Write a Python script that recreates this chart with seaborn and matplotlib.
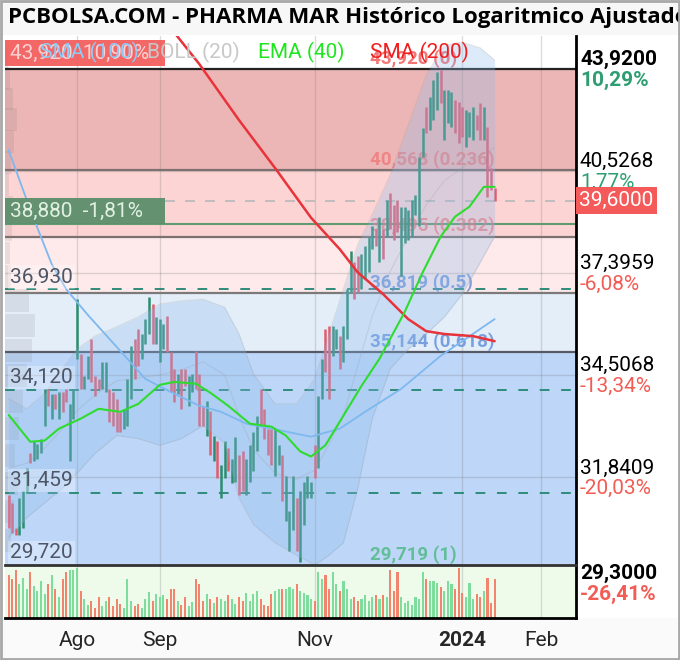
import numpy as np
import pandas as pd
import matplotlib
matplotlib.use('Agg')
import matplotlib.pyplot as plt
import matplotlib.transforms as mtransforms
from matplotlib.patches import Rectangle
import seaborn as sns

sns.set_style('white')
plt.rcParams['font.family'] = ['Roboto', 'DejaVu Sans']

# calendario de sesiones (BME cierra 25/26 dic y 1 ene)
FESTIVOS = ['2023-12-25', '2023-12-26', '2024-01-01']
calendario = pd.bdate_range('2023-07-05', '2024-02-29', freq='C', holidays=FESTIVOS)

# apertura / cierre de cada sesión (5 jul 2023 - 15 ene 2024)
aperturas = [
    31.40, 31.21, 30.61, 30.44, 30.61, 31.45, 32.45, 32.25, 32.32, 32.45,
    33.17, 34.14, 33.35, 34.01, 33.35, 34.06, 34.14, 32.25, 33.35, 34.96,
    35.10, 34.14, 34.41, 35.51, 34.49, 34.41, 34.14, 34.06, 34.14, 34.06,
    33.88, 33.53, 33.09, 33.17, 33.88, 35.51, 35.79, 34.96, 35.37, 35.65,
    36.50, 35.37, 34.88, 35.23, 36.16, 35.15, 34.69, 34.01, 34.69, 34.69,
    33.69, 34.06, 35.18, 34.55, 33.69, 32.91, 33.56, 32.25, 32.76, 31.33,
    31.82, 32.58, 31.70, 31.74, 32.40, 32.50, 31.40, 31.74, 32.00, 32.50,
    34.14, 33.61, 33.09, 33.09, 31.89, 32.15, 32.40, 30.78, 30.06, 30.54,
    31.33, 29.79, 30.68, 31.33, 31.33, 32.66, 32.07, 33.88, 35.79, 35.87,
    35.04, 35.23, 35.59, 34.88, 35.51, 36.85, 37.72, 37.90, 36.93, 37.22,
    37.42, 38.11, 38.71, 37.72, 38.71, 38.49, 39.85, 39.47, 39.63, 37.31,
    38.31, 38.40, 38.49, 39.16, 38.80, 40.99, 42.63, 41.86, 42.19, 42.53,
    43.89, 41.54, 42.09, 41.96, 42.86, 42.79, 42.63, 41.31, 41.64, 41.54,
    42.36, 42.76, 41.54, 41.96, 40.64, 40.00,
]
cierres = [
    30.61, 30.49, 30.44, 31.33, 31.50, 32.07, 32.20, 32.76, 32.70, 32.83,
    34.14, 33.69, 34.01, 33.61, 34.06, 33.53, 33.80, 33.74, 34.14, 36.64,
    34.14, 34.49, 35.04, 34.33, 33.96, 34.14, 34.88, 34.88, 33.27, 33.17,
    33.01, 33.01, 33.61, 34.41, 35.32, 34.41, 34.77, 35.65, 36.07, 36.70,
    35.37, 36.13, 36.07, 35.93, 35.15, 34.06, 33.80, 34.55, 33.61, 34.22,
    34.49, 34.55, 34.14, 33.17, 33.17, 33.82, 32.40, 32.91, 31.82, 32.15,
    32.76, 32.00, 32.32, 32.88, 31.40, 31.50, 32.32, 32.66, 33.01, 33.43,
    33.17, 32.83, 32.40, 32.15, 33.09, 32.66, 31.26, 31.89, 31.02, 31.89,
    30.06, 31.50, 31.74, 31.87, 31.74, 31.82, 33.96, 34.96, 34.60, 33.88,
    35.87, 35.79, 34.69, 35.87, 36.93, 38.05, 36.64, 36.85, 37.96, 38.20,
    38.49, 38.80, 38.20, 39.10, 37.81, 39.63, 38.71, 38.40, 38.62, 39.41,
    39.41, 39.32, 39.63, 39.78, 40.99, 41.93, 41.76, 42.96, 43.54, 43.82,
    42.76, 43.20, 43.20, 43.13, 41.76, 41.44, 41.64, 42.53, 42.46, 42.63,
    41.86, 41.54, 42.63, 39.72, 39.94, 39.60,
]
volumen = [
    45, 40, 50, 35, 42, 30, 48, 33, 28, 38, 25, 35, 45, 30, 22, 40, 48, 50, 50, 52,
    28, 20, 14, 18, 10, 22, 12, 18, 22, 12, 20, 15, 10, 40, 18, 12, 15, 10, 20, 27,
    18, 25, 22, 24, 20, 30, 30, 18, 14, 22, 12, 17, 40, 35, 18, 25, 20, 16, 22, 20,
    18, 24, 20, 15, 22, 18, 26, 18, 25, 28, 20, 14, 12, 25, 28, 30, 30, 30, 32, 30,
    35, 28, 26, 24, 20, 18, 48, 40, 45, 30, 48, 35, 28, 38, 30, 20, 22, 18, 20, 24,
    18, 22, 24, 20, 24, 22, 50, 28, 48, 22, 16, 18, 14, 22, 20, 48, 40, 38, 38, 36,
    32, 28, 38, 35, 30, 52, 26, 22, 36, 20, 25, 22, 28, 42, 16, 40,
]

# medias (sesión, valor)
ema40_ses = [0, 6, 10, 14, 20, 25, 31, 36, 42, 46, 52, 56, 61, 67, 73, 77, 81, 84,
             88, 93, 98, 103, 110, 115, 120, 124, 128, 132, 135]
ema40_val = [33.45, 32.75, 32.78, 33.09, 33.35, 33.61, 33.53, 33.74, 34.25, 34.33,
             34.28, 34.04, 33.69, 33.22, 33.14, 32.91, 32.50, 32.37, 32.66, 33.43,
             34.22, 34.96, 36.27, 37.42, 38.49, 39.10, 39.41, 40.03, 40.03]
sma100_ses = [0, 6, 12, 16, 22, 32, 38, 45, 53, 59, 66, 73, 84, 92, 99, 109, 120, 135]
sma100_val = [41.21, 39.32, 37.66, 36.93, 36.19, 35.07, 34.41, 34.06, 33.69, 33.53,
              33.22, 33.09, 32.88, 33.09, 33.53, 34.14, 35.04, 36.07]
sma200_ses = [45, 53, 64, 74, 84, 92, 97, 104, 111, 116, 121, 129, 135]
sma200_val = [45.37, 44.09, 42.19, 40.63, 39.07, 38.11, 37.42, 36.79, 36.07, 35.73,
              35.65, 35.59, 35.45]
boll_ses = [0, 5, 10, 15, 19, 24, 30, 36, 42, 48, 54, 60, 64, 68, 74, 80, 85, 89,
            93, 97, 101, 106, 111, 116, 121, 126, 131, 135]
boll_sup = [33.88, 33.61, 34.01, 34.69, 35.23, 35.59, 35.85, 36.13, 36.50, 36.59,
            36.64, 36.41, 35.65, 34.55, 33.74, 33.74, 34.41, 35.65, 36.93, 38.26,
            39.16, 40.41, 42.03, 43.71, 44.76, 44.86, 44.66, 44.23]
boll_med = [32.07, 32.20, 32.58, 33.09, 33.56, 33.98, 34.36, 34.44, 34.52, 34.66,
            34.88, 34.52, 33.43, 32.55, 31.95, 31.80, 32.02, 32.68, 33.43, 34.77,
            36.16, 37.45, 38.50, 39.47, 40.22, 40.63, 41.05, 41.28]
boll_inf = [30.37, 30.85, 31.21, 31.58, 31.95, 32.45, 32.91, 32.83, 32.66, 32.83,
            33.17, 32.71, 31.33, 30.68, 30.25, 29.95, 29.72, 29.95, 30.25, 31.58,
            33.35, 34.69, 35.23, 35.65, 36.13, 36.79, 37.72, 38.50]

# retrocesos de Fibonacci
fib_precios = [43.920, 40.568, 38.495, 36.819, 35.144, 29.719]
fib_ratios = ['0', '0.236', '0.382', '0.5', '0.618', '1']
fib_zonas = ['#edb6b6', '#fdd4d4', '#feeaea', '#e4eef9', '#bed7f8']
fib_colores = ['#f03c3c', '#f07070', '#f07070', '#4a7fd6', '#4a7fd6', '#3cb371']

# niveles marcados a la izquierda
soportes = [36.930, 34.120, 31.459]
minimo = 29.720
caja_sup = (43.920, '10,90%')
caja_inf = (38.880, '-1,81%')

# eje de precios de la derecha
eje_precios = [43.92, 40.5268, 37.3959, 34.5068, 31.8409, 29.30]
eje_pct = ['10,29%', '1,77%', '-6,08%', '-13,34%', '-20,03%', '-26,41%']
precio_actual = 39.60

# perfil de volumen por precio
perfil_precio = [44.3, 43.6, 42.9, 42.2, 41.5, 40.8, 40.1, 39.4, 38.7, 38.0, 37.3,
                 36.6, 35.9, 35.2, 34.5, 33.8, 33.1, 32.4, 31.7, 31.0, 30.3]
perfil_vol = [3, 5, 8, 12, 9, 6, 4, 8, 7, 5, 6, 24, 30, 27, 22, 18, 14, 10, 13, 9, 6]

meses = ['Ago', 'Sep', 'Nov', '2024', 'Feb']
meses_fecha = ['2023-08-01', '2023-09-01', '2023-11-01', '2024-01-02', '2024-02-01']

VERDE = '#2b8c6e'
ROJO = '#e25c6c'

fig = plt.figure(figsize=(6.8, 6.6), dpi=100)
fig.patch.set_facecolor('white')
fig.patches.append(Rectangle((0, 1 - 35 / 660), 1, 35 / 660, transform=fig.transFigure,
                             fc='#f7f7f7', ec='none', zorder=-1))
fig.patches.append(Rectangle((0, 0), 1, 42 / 660, transform=fig.transFigure,
                             fc='#fafafa', ec='none', zorder=-1))
fig.patches.append(Rectangle((0.002, 0.002), 0.996, 0.996, transform=fig.transFigure,
                             fc='none', ec='#a8a8a8', lw=2, zorder=10))

L, W = 5 / 680, 571 / 680
ax = fig.add_axes([L, 1 - 565 / 660, W, 529 / 660])
axv = fig.add_axes([L, 1 - 618 / 660, W, 53 / 660])

n = len(cierres)
ses = np.arange(n)
ab = np.array(aperturas)
ci = np.array(cierres)
sube = ci >= ab
mes_idx = [int(np.searchsorted(calendario, pd.Timestamp(m))) for m in meses_fecha]

ax.set_yscale('log')
ax.set_facecolor('white')

# zonas de Fibonacci
for k, c in enumerate(fib_zonas):
    ax.axhspan(fib_precios[k + 1], fib_precios[k], color=c, lw=0, zorder=0)

# rejilla
for m in mes_idx:
    ax.axvline(m, color='#777777', alpha=0.25, lw=1, zorder=0.6)
    axv.axvline(m, color='#777777', alpha=0.25, lw=1, zorder=0.6)
for p in eje_precios:
    ax.axhline(p, color='#777777', alpha=0.25, lw=1, zorder=0.6)

# perfil de volumen
pp = np.array(perfil_precio)
ax.barh(pp, np.array(perfil_vol) / 3.6, left=-1, height=pp * 0.018,
        color='#6f6f6f', alpha=0.13, lw=0, zorder=1)

# líneas de Fibonacci
fib_lineas = ['#222222', '#7d7070', '#7d7070', '#7a7a7a', '#555a66', '#333333']
for p, c in zip(fib_precios[:-1], fib_lineas[:-1]):
    ax.axhline(p, color=c, lw=1.6, zorder=2)

# soportes y precio actual
for p in soportes:
    ax.axhline(p, color='#2e8b7a', lw=1.4, dashes=(5, 6), zorder=2)
ax.axhline(caja_inf[0], color='#5f9a70', lw=1.5, zorder=2)
ax.axhline(precio_actual, xmin=0.28, color='#b8b8b8', lw=1.2, dashes=(6, 6), zorder=2)

# etiquetas de Fibonacci
for p, r, c in zip(fib_precios, fib_ratios, fib_colores):
    ax.annotate(f"{p:.3f}".replace('.', ',') + f" ({r})", xy=(100.3, p), xytext=(0, 1),
                textcoords='offset points', va='bottom', ha='left', fontsize=13.5,
                fontweight='bold', color=c, alpha=0.7, zorder=2.5, annotation_clip=False)

# velas
ax.vlines(ses, np.minimum(ab, ci), np.maximum(ab, ci), colors=np.where(sube, VERDE, ROJO),
          lw=1.8, zorder=3)

# bandas de Bollinger
ax.fill_between(boll_ses, boll_inf, boll_sup, color='#8dbbec', alpha=0.3, lw=0, zorder=3.5)
for serie in (boll_sup, boll_med, boll_inf):
    ax.plot(boll_ses, serie, color='#9a9a9a', lw=0.8, alpha=0.25, zorder=3.6)

# medias
sns.lineplot(x=sma100_ses, y=sma100_val, ax=ax, color='#7db8ef', lw=1.3, zorder=4, legend=False)
sns.lineplot(x=sma200_ses, y=sma200_val, ax=ax, color='#e8333a', lw=1.8, zorder=4, legend=False)
sns.lineplot(x=ema40_ses, y=ema40_val, ax=ax, color='#2edc2e', lw=1.5, zorder=4, legend=False)

ax.set_xlim(-1, 157.6)
ax.set_ylim(29.72, 45.08)

# cajas y etiquetas de la izquierda
tr = mtransforms.blended_transform_factory(ax.transAxes, ax.transData)
ax.axhspan(44.02, 44.95, xmin=0, xmax=0.28, color='#f25a5a', alpha=0.92, lw=0, zorder=4.5)
ax.text(0.009, 44.48, f"{caja_sup[0]:.3f}".replace('.', ',') + '  ' + caja_sup[1], transform=tr,
        va='center', ha='left', fontsize=15, color='#fbd2d2', zorder=5)
ax.axhspan(caja_inf[0], 39.68, xmin=0, xmax=0.28, color='#5c8f6c', alpha=0.95, lw=0, zorder=4.5)
ax.text(0.009, 39.27, f"{caja_inf[0]:.3f}".replace('.', ',') + '  ' + caja_inf[1], transform=tr,
        va='center', ha='left', fontsize=15, color='#e2f0e2', zorder=5)
for p in soportes + [minimo]:
    ax.annotate(f"{p:.3f}".replace('.', ','), xy=(0.009, p), xycoords=tr, xytext=(0, 2),
                textcoords='offset points', va='bottom', ha='left', fontsize=15, color='#4d5566',
                zorder=5, bbox=dict(boxstyle='square,pad=0.1', fc='white', ec='none', alpha=0.3))

# leyenda (se solapa con la caja roja, igual que en el original)
leyenda = [('SMA (100)', '#8ecbf6', 0.061), ('BOLL (20)', '#c8c8c8', 0.249),
           ('EMA (40)', '#1ee61e', 0.443), ('SMA (200)', '#f01e1e', 0.639)]
for txt, c, x in leyenda:
    ax.text(x, 44.5, txt, transform=tr, va='center', ha='left', fontsize=15, color=c, zorder=6)

# eje derecho
for k, (p, pct) in enumerate(zip(eje_precios, eje_pct)):
    peso = 'bold' if k in (0, len(eje_precios) - 1) else 'normal'
    col = '#2e9e72' if pct[0] != '-' else '#f25c54'
    ax.annotate(f"{p:.4f}".replace('.', ','), xy=(1.007, p), xycoords=tr, xytext=(0, 0),
                textcoords='offset points', va='bottom', ha='left', fontsize=15,
                fontweight=peso, color='black', annotation_clip=False)
    ax.annotate(pct, xy=(1.007, p), xycoords=tr, xytext=(0, -1), textcoords='offset points',
                va='top', ha='left', fontsize=15, fontweight=peso, color=col,
                annotation_clip=False)
ax.text(1.006, precio_actual, f"{precio_actual:.4f}".replace('.', ','), transform=tr,
        va='center', ha='left', fontsize=15, color='white', zorder=6,
        bbox=dict(boxstyle='square,pad=0.18', fc='#f55a5a', ec='none'))

for s in ['top', 'left', 'bottom']:
    ax.spines[s].set_visible(False)
ax.spines['right'].set_color('black')
ax.spines['right'].set_linewidth(2)
ax.set_xticks([])
ax.set_yticks([])
ax.yaxis.set_minor_locator(plt.NullLocator())

# volumen
axv.set_facecolor('#effbea')
axv.bar(ses, volumen, width=0.6, color=np.where(sube, '#7edc9c', '#f2846e'), lw=0, zorder=2)
axv.set_xlim(-1, 157.6)
axv.set_ylim(0, 55)
axv.set_yticks([])
axv.set_xticks(mes_idx)
axv.set_xticklabels(meses, fontsize=15)
axv.tick_params(axis='x', length=0, pad=9)
axv.get_xticklabels()[3].set_fontweight('bold')
axv.spines['left'].set_visible(False)
axv.spines['top'].set_color('#333333')
axv.spines['top'].set_linewidth(2)
for s in ['bottom', 'right']:
    axv.spines[s].set_color('black')
    axv.spines[s].set_linewidth(2)

fig.text(8 / 680, 1 - 18 / 660, 'PCBOLSA.COM - PHARMA MAR Histórico Logaritmico Ajustado',
         fontsize=16, fontweight='bold', family=['Open Sans', 'DejaVu Sans'],
         va='center', ha='left', color='black')

fig.savefig('out.png', dpi=100)
